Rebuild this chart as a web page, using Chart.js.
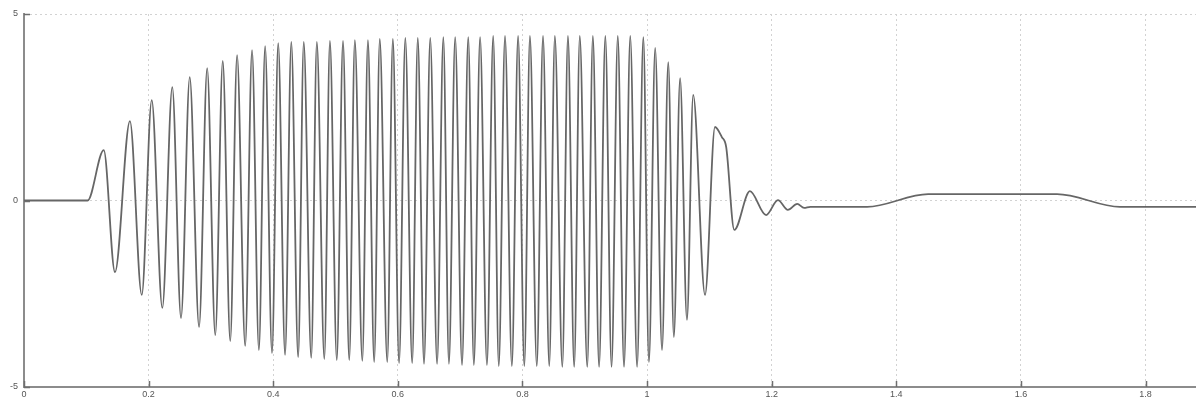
<!DOCTYPE html>
<html lang="en">
<head>
  <meta charset="UTF-8" />
  <title>Scope trace</title>
  <script src="https://cdn.jsdelivr.net/npm/chart.js"></script>
  <style>
    html, body {
      margin: 0;
      padding: 0;
      background: #ffffff;
    }
    #wrap {
      width: 1196px;
      height: 402px;
    }
  </style>
</head>
<body>
  <div id="wrap"><canvas id="scope" width="1196" height="402"></canvas></div>

  <script>
    // axis ticks
    const xTicks = [0, 0.2, 0.4, 0.6, 0.8, 1, 1.2, 1.4, 1.6, 1.8];
    const yTicks = [-5, 0, 5];

    // flat lead-in before the burst
    const leadT = [0, 0.102];
    const leadV = [0, 0];

    // positive peaks of the burst
    const peakT = [0.128, 0.170, 0.205, 0.238, 0.266, 0.294, 0.319, 0.342, 0.366, 0.387,
                   0.408, 0.429, 0.449, 0.470, 0.491, 0.512, 0.531, 0.552, 0.571, 0.592,
                   0.612, 0.632, 0.652, 0.673, 0.692, 0.713, 0.732, 0.753, 0.772, 0.793,
                   0.812, 0.833, 0.852, 0.873, 0.892, 0.913, 0.933, 0.953, 0.973, 0.994,
                   1.013, 1.034, 1.053, 1.074, 1.109];
    const peakV = [1.35, 2.13, 2.69, 3.04, 3.31, 3.55, 3.74, 3.90, 4.03, 4.14,
                   4.22, 4.25, 4.25, 4.25, 4.28, 4.28, 4.30, 4.30, 4.33, 4.33,
                   4.36, 4.36, 4.36, 4.38, 4.38, 4.38, 4.38, 4.41, 4.41, 4.41,
                   4.41, 4.41, 4.41, 4.41, 4.41, 4.41, 4.41, 4.41, 4.41, 4.38,
                   4.09, 3.71, 3.28, 2.83, 1.97];

    // negative peaks of the burst
    const troughT = [0.146, 0.189, 0.222, 0.252, 0.281, 0.307, 0.331, 0.355, 0.377, 0.398,
                     0.419, 0.440, 0.461, 0.482, 0.502, 0.522, 0.543, 0.562, 0.583, 0.602,
                     0.623, 0.642, 0.663, 0.682, 0.703, 0.722, 0.743, 0.762, 0.783, 0.803,
                     0.823, 0.843, 0.864, 0.883, 0.904, 0.923, 0.943, 0.963, 0.984, 1.003,
                     1.024, 1.043, 1.064, 1.093];
    const troughV = [-1.92, -2.53, -2.88, -3.15, -3.39, -3.61, -3.77, -3.90, -4.01, -4.09,
                     -4.14, -4.20, -4.22, -4.25, -4.28, -4.28, -4.30, -4.33, -4.33, -4.36,
                     -4.36, -4.38, -4.38, -4.38, -4.41, -4.41, -4.41, -4.44, -4.44, -4.44,
                     -4.44, -4.44, -4.46, -4.46, -4.46, -4.46, -4.46, -4.46, -4.46, -4.33,
                     -4.01, -3.66, -3.20, -2.53];

    // ring-down and slow step afterwards
    const ringT = [1.120, 1.127, 1.140, 1.165, 1.191, 1.210, 1.226, 1.241, 1.252, 1.262,
                   1.353, 1.451, 1.658, 1.759, 1.881];
    const ringV = [1.70, 1.43, -0.79, 0.25, -0.39, 0.01, -0.25, -0.09, -0.20, -0.17,
                   -0.17, 0.17, 0.17, -0.17, -0.17];

    const points = [];
    function addSeries(ts, vs) {
      ts.forEach((t, i) => points.push({ x: t, y: vs[i] }));
    }
    addSeries(leadT, leadV);
    addSeries(peakT, peakV);
    addSeries(troughT, troughV);
    addSeries(ringT, ringV);
    points.sort((a, b) => a.x - b.x);

    const labelFont = { family: "'Liberation Sans', Arial, sans-serif", size: 9 };

    // small tick marks drawn inside the plot, like the scope grid
    const innerTicks = {
      id: "innerTicks",
      afterDraw(chart) {
        const { ctx, chartArea, scales } = chart;
        ctx.save();
        ctx.strokeStyle = "#6e6e6e";
        ctx.lineWidth = 1.5;
        xTicks.forEach(v => {
          const px = Math.round(scales.x.getPixelForValue(v)) + 0.5;
          ctx.beginPath();
          ctx.moveTo(px, chartArea.bottom);
          ctx.lineTo(px, chartArea.bottom - 6);
          ctx.stroke();
        });
        yTicks.forEach(v => {
          const py = Math.round(scales.y.getPixelForValue(v)) + 0.5;
          ctx.beginPath();
          ctx.moveTo(chartArea.left, py);
          ctx.lineTo(chartArea.left + 6, py);
          ctx.stroke();
        });
        ctx.restore();
      }
    };

    new Chart(document.getElementById("scope"), {
      type: "line",
      data: {
        datasets: [{
          data: points,
          borderColor: "#666666",
          borderWidth: 1.8,
          pointRadius: 0,
          fill: false,
          cubicInterpolationMode: "monotone"
        }]
      },
      options: {
        responsive: false,
        animation: false,
        layout: { padding: { top: 14, right: 0, bottom: 0, left: 0 } },
        plugins: {
          legend: { display: false },
          tooltip: { enabled: false }
        },
        scales: {
          x: {
            type: "linear",
            min: 0,
            max: 1.881,
            afterBuildTicks: s => { s.ticks = xTicks.map(v => ({ value: v })); },
            afterFit: s => { s.height = 15; },
            ticks: {
              color: "#555",
              font: labelFont,
              padding: 2,
              maxRotation: 0,
              autoSkip: false,
              callback: v => String(v)
            },
            grid: { color: "#d2d2d2", lineWidth: 1, drawTicks: false },
            border: { color: "#8c8c8c", width: 2, dash: [2, 3] }
          },
          y: {
            min: -5,
            max: 5,
            afterBuildTicks: s => { s.ticks = yTicks.map(v => ({ value: v })); },
            afterFit: s => { s.width = 24; },
            ticks: {
              color: "#555",
              font: labelFont,
              padding: 6,
              callback: v => String(v)
            },
            grid: { color: "#d2d2d2", lineWidth: 1, drawTicks: false },
            border: { color: "#8c8c8c", width: 2, dash: [2, 3] }
          }
        }
      },
      plugins: [innerTicks]
    });
  </script>
</body>
</html>
